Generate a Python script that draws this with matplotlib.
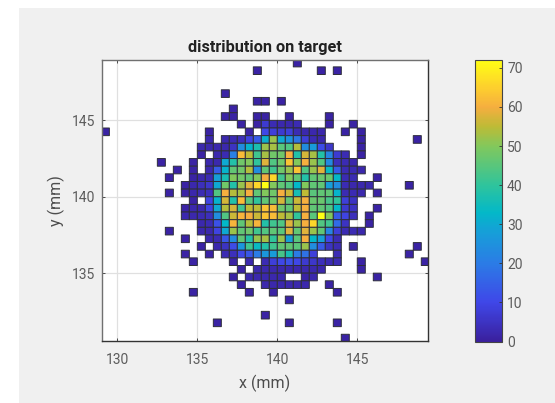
import matplotlib
matplotlib.use("Agg")
import matplotlib.pyplot as plt
from matplotlib.colors import LinearSegmentedColormap
from matplotlib.patches import Rectangle
import numpy as np

plt.rcParams['font.family'] = ['Roboto', 'DejaVu Sans']

# histogram bins, 0.5 mm wide
x_edges = np.arange(129, 149.51, 0.5)
y_edges = np.arange(149, 130.49, -0.5)

# counts per row from the top, {column: count}
counts_by_row = [
    {24: 1},
    {19: 1, 27: 1, 29: 1},
    {},
    {},
    {15: 1},
    {19: 1, 20: 1, 22: 1},
    {16: 1},
    {15: 1, 16: 1, 19: 1, 20: 1, 23: 1, 28: 1},
    {17: 1, 19: 1, 20: 7, 21: 3, 22: 2, 23: 2, 24: 3, 28: 1, 31: 1},
    {0: 1, 13: 1, 18: 1, 20: 10, 21: 8, 22: 7, 23: 8, 24: 3, 25: 2, 26: 2, 27: 2, 30: 1, 32: 1},
    {13: 2, 15: 2, 16: 3, 17: 4, 18: 9, 19: 14, 20: 31, 21: 52, 22: 30, 23: 25, 24: 19, 25: 8,
     26: 3, 27: 2, 32: 1, 39: 1},
    {12: 2, 13: 2, 14: 2, 15: 2, 16: 5, 17: 24, 18: 32, 19: 37, 20: 52, 21: 53, 22: 45, 23: 44,
     24: 54, 25: 24, 26: 27, 27: 11, 28: 6, 32: 1},
    {12: 1, 14: 2, 15: 3, 16: 21, 17: 62, 18: 55, 19: 42, 20: 53, 21: 48, 22: 48, 23: 60, 24: 38,
     25: 57, 26: 53, 27: 38, 28: 22, 29: 7, 30: 3, 32: 1},
    {7: 1, 11: 1, 13: 2, 14: 2, 15: 30, 16: 38, 17: 48, 18: 50, 19: 40, 20: 58, 21: 44, 22: 48,
     23: 63, 24: 50, 25: 60, 26: 52, 27: 44, 28: 23, 29: 4, 30: 3, 31: 2},
    {9: 1, 11: 1, 13: 2, 14: 14, 15: 32, 16: 46, 17: 48, 18: 54, 19: 24, 20: 46, 21: 42, 22: 48,
     23: 52, 24: 63, 25: 44, 26: 52, 27: 58, 28: 34, 29: 14, 30: 3, 31: 3, 32: 2},
    {8: 1, 11: 1, 12: 2, 13: 3, 14: 28, 15: 36, 16: 50, 17: 48, 18: 46, 19: 50, 20: 60, 21: 66,
     22: 42, 23: 50, 24: 46, 25: 38, 26: 46, 27: 47, 28: 47, 29: 33, 30: 3, 31: 3, 34: 1},
    {10: 1, 11: 2, 12: 4, 13: 6, 14: 30, 15: 48, 16: 38, 17: 52, 18: 58, 19: 66, 20: 72, 21: 50,
     22: 46, 23: 44, 24: 33, 25: 50, 26: 46, 27: 46, 28: 28, 29: 24, 30: 3, 31: 2, 32: 2, 33: 2, 38: 1},
    {8: 1, 10: 1, 11: 2, 12: 3, 13: 4, 14: 44, 15: 60, 16: 54, 17: 53, 18: 60, 19: 46, 20: 50,
     21: 48, 22: 60, 23: 56, 24: 36, 25: 55, 26: 45, 27: 46, 28: 46, 29: 32, 30: 3, 31: 3, 32: 2, 34: 1},
    {11: 1, 13: 9, 14: 32, 15: 57, 16: 38, 17: 62, 18: 45, 19: 40, 20: 46, 21: 48, 22: 57, 23: 46,
     24: 56, 25: 60, 26: 47, 27: 47, 28: 43, 29: 40, 30: 8, 31: 5},
    {10: 1, 11: 2, 12: 2, 13: 9, 14: 30, 15: 54, 16: 57, 17: 42, 18: 55, 19: 55, 20: 63, 21: 62,
     22: 48, 23: 46, 24: 55, 25: 60, 26: 46, 27: 46, 28: 44, 29: 33, 30: 7, 31: 5, 34: 1},
    {10: 2, 11: 2, 12: 3, 13: 4, 14: 24, 15: 44, 16: 56, 17: 61, 18: 60, 19: 56, 20: 63, 21: 62,
     22: 55, 23: 53, 24: 40, 25: 60, 26: 45, 27: 72, 28: 50, 29: 14, 30: 9, 31: 4, 33: 1},
    {12: 2, 13: 3, 14: 12, 15: 33, 16: 61, 17: 46, 18: 54, 19: 61, 20: 38, 21: 42, 22: 44, 23: 58,
     24: 52, 25: 60, 26: 66, 27: 44, 28: 42, 29: 17, 30: 5, 33: 1},
    {8: 1, 12: 2, 13: 2, 14: 9, 15: 30, 16: 52, 17: 46, 18: 48, 19: 42, 20: 44, 21: 46, 22: 45,
     23: 58, 24: 46, 25: 58, 26: 52, 27: 46, 28: 22, 29: 8, 30: 3, 31: 3, 32: 2},
    {10: 1, 13: 2, 14: 3, 15: 13, 16: 24, 17: 46, 18: 38, 19: 52, 20: 53, 21: 40, 22: 52, 23: 28,
     24: 45, 25: 60, 26: 33, 27: 28, 28: 10, 29: 3},
    {12: 1, 14: 2, 15: 5, 16: 11, 17: 26, 18: 42, 19: 34, 20: 38, 21: 42, 22: 46, 23: 46, 24: 45,
     25: 52, 26: 24, 27: 14, 28: 5, 29: 3, 31: 1, 39: 1},
    {10: 1, 13: 1, 15: 3, 16: 4, 17: 10, 18: 13, 19: 20, 20: 26, 21: 27, 22: 43, 23: 36, 24: 20,
     25: 18, 26: 8, 29: 3, 38: 1},
    {11: 1, 16: 1, 18: 2, 20: 3, 21: 8, 22: 10, 23: 12, 24: 10, 25: 7, 26: 6, 27: 4, 28: 3, 29: 3,
     32: 1, 40: 1},
    {17: 1, 19: 2, 20: 2, 21: 2, 22: 2, 23: 2, 24: 2, 25: 2, 26: 2, 27: 2, 32: 1},
    {16: 1, 18: 2, 19: 2, 20: 2, 21: 2, 22: 2, 25: 1, 26: 2, 34: 1},
    {17: 1, 20: 2, 21: 2, 22: 2, 23: 2, 24: 2, 25: 2, 28: 1},
    {11: 1, 18: 1, 21: 1, 29: 1},
    {23: 1},
    {},
    {20: 1},
    {14: 1, 23: 1, 29: 1},
    {},
    {30: 1},
]

x_ticks = [130, 135, 140, 145]
y_ticks = [135, 140, 145]
cbar_ticks = [0, 10, 20, 30, 40, 50, 60, 70]

counts = np.zeros((len(y_edges) - 1, len(x_edges) - 1))
for r, row in enumerate(counts_by_row):
    for c, v in row.items():
        counts[r, c] = v
counts = np.ma.masked_equal(counts, 0)

cmap = LinearSegmentedColormap.from_list("parula_ish", [
    (0.0, "#3a209e"), (10 / 72, "#3f47e8"), (20 / 72, "#2b7ce6"), (28 / 72, "#169fd8"),
    (33 / 72, "#03b8c8"), (40 / 72, "#2fc49c"), (50 / 72, "#82c85c"), (55 / 72, "#bdbb36"),
    (60 / 72, "#f5ae3f"), (65 / 72, "#fdcf2e"), (1.0, "#ffff14")])

W, H = 555, 403
fig = plt.figure(figsize=(W / 100, H / 100), dpi=100, facecolor="white")
fig.patches.append(Rectangle((19 / W, 0), 1 - 19 / W, 1 - 8 / H, transform=fig.transFigure,
                             facecolor="#f0f0f0", edgecolor="none", zorder=-10))

ax = fig.add_axes([102 / W, 1 - 341 / H, 326 / W, 281 / H])
# pcolor leaves the empty bins out, pcolormesh would still stroke them
mesh = ax.pcolor(x_edges, y_edges, counts, cmap=cmap, vmin=0, vmax=72,
                 edgecolors="#2e2e3a", linewidth=0.7, zorder=2)
ax.set_xlim(129.04, 149.42)
ax.set_ylim(130.56, 148.95)
ax.set_xticks(x_ticks)
ax.set_yticks(y_ticks)
ax.grid(True, color="#e0e0e0", linewidth=0.9, zorder=0)
ax.set_axisbelow(True)
ax.tick_params(direction="in", length=2.5, width=0.6, color="#333333",
               labelcolor="#5c5c5c", labelsize=10, pad=5, top=True, right=True)
ax.tick_params(axis="x", pad=9)
ax.set_xlabel("x (mm)", fontsize=11.5, color="#4d4d4d", labelpad=5)
ax.set_ylabel("y (mm)", fontsize=11.5, color="#4d4d4d", labelpad=5)
ax.set_title("distribution on target", fontsize=11.7, fontweight="bold", color="#222222", pad=6)
for side in ["left", "top"]:
    ax.spines[side].set_color("#707070")
    ax.spines[side].set_linewidth(1.0)
for side in ["right", "bottom"]:
    ax.spines[side].set_color("#333333")
    ax.spines[side].set_linewidth(1.0)

cax = fig.add_axes([475 / W, 1 - 341.5 / H, 26.5 / W, 281.5 / H])
cb = fig.colorbar(mesh, cax=cax, ticks=cbar_ticks)
cb.ax.tick_params(direction="in", length=2, width=0.6, color="#333333",
                  labelcolor="#5c5c5c", labelsize=10, pad=4)
cb.outline.set_edgecolor("#444444")
cb.outline.set_linewidth(0.8)

fig.savefig("out.png", dpi=100, facecolor=fig.get_facecolor())
